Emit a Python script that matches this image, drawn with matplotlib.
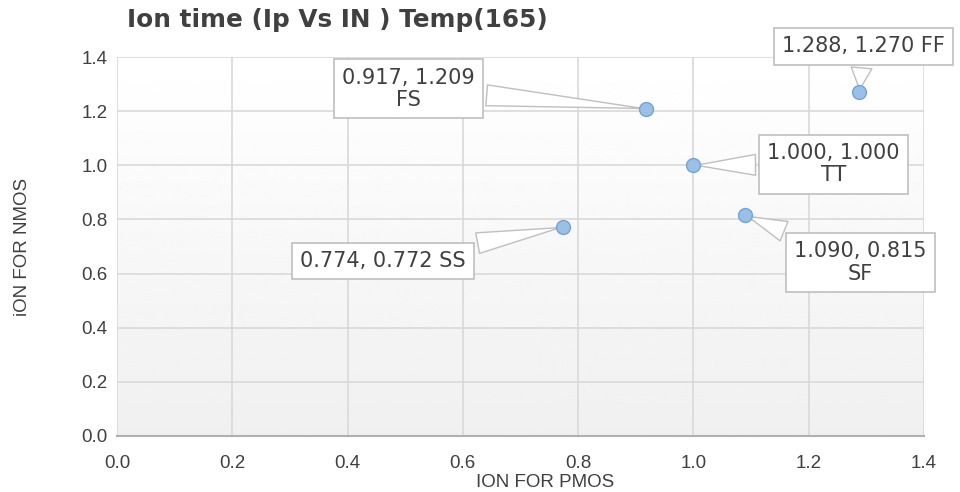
import numpy as np
import matplotlib
matplotlib.use("Agg")
from matplotlib import pyplot as plt

# corner results, normalised ION (PMOS on x, NMOS on y)
corners = ["FF", "FS", "TT", "SF", "SS"]
ion_pmos = [1.288, 0.917, 1.000, 1.090, 0.774]
ion_nmos = [1.270, 1.209, 1.000, 0.815, 0.772]
ticks = [0.0, 0.2, 0.4, 0.6, 0.8, 1.0, 1.2, 1.4]

# where each callout sits relative to its point (pixels) and label layout
label_offsets = {"FF": (4, 46), "FS": (-237, 20), "TT": (140, 1),
                 "SF": (115, -47), "SS": (-180, -34)}
two_line = {"FS", "TT", "SF"}

narrow = ["Liberation Sans", "DejaVu Sans"]

fig = plt.figure(figsize=(9.6, 4.92), dpi=100)
ax = fig.add_axes([117 / 960, 1 - 436 / 492, 807 / 960, 379 / 492])

# soft white-to-grey plot area fill
grad = np.linspace(0.94, 1.0, 256).reshape(-1, 1)
ax.imshow(grad, cmap="gray", vmin=0, vmax=1, aspect="auto",
          extent=[0, 1, 0, 1], transform=ax.transAxes, zorder=-5,
          origin="lower")

ax.set_xlim(0, 1.4)
ax.set_ylim(0, 1.4)
ax.set_xticks(ticks)
ax.set_yticks(ticks)
ax.set_xticklabels([f"{t:.1f}" for t in ticks], family=narrow, fontsize=13.5,
                   color="#404040")
ax.set_yticklabels([f"{t:.1f}" for t in ticks], family=narrow, fontsize=13.5,
                   color="#404040")
ax.tick_params(length=0)
ax.tick_params(axis="x", pad=14)
ax.tick_params(axis="y", pad=7)
ax.set_axisbelow(True)
ax.grid(True, color="#d9d9d9", linewidth=1.2)
for side in ["top", "right", "left"]:
    ax.spines[side].set_visible(False)
ax.spines["bottom"].set_color("#b0b0b0")
ax.spines["bottom"].set_linewidth(1.5)

ax.scatter(ion_pmos, ion_nmos, s=100, color="#9bbfe6", edgecolor="#74a3d6",
           linewidth=1, zorder=10, clip_on=False)

for name, x, y in zip(corners, ion_pmos, ion_nmos):
    if name in two_line:
        text = f"{x:.3f}, {y:.3f}\n{name}"
    else:
        text = f"{x:.3f}, {y:.3f} {name}"
    ax.annotate(text, xy=(x, y), xytext=label_offsets[name],
                textcoords="offset pixels", ha="center", va="center",
                fontsize=15, color="#404040", linespacing=1.15,
                bbox=dict(boxstyle="square,pad=0.4", fc="white",
                          ec="#bfbfbf", lw=1.2),
                arrowprops=dict(arrowstyle="wedge,tail_width=1.0,shrink_factor=0.5",
                                fc="white", ec="#bfbfbf", lw=1.0),
                zorder=8, annotation_clip=False)

ax.set_xlabel("ION FOR PMOS", family=narrow, fontsize=13.5, color="#404040")
ax.set_ylabel("iON FOR NMOS", family=narrow, fontsize=13.5, color="#404040")
ax.xaxis.set_label_coords((545 - 117) / 807, -(474 - 436) / 379)
ax.yaxis.set_label_coords((31 - 117) / 807, 0.5)

fig.text(127 / 960, 1 - 20 / 492, "Ion time (Ip Vs IN ) Temp(165)",
         fontsize=17.8, fontweight="bold", color="#404040", va="center",
         ha="left")

fig.savefig("out.png", dpi=100)
